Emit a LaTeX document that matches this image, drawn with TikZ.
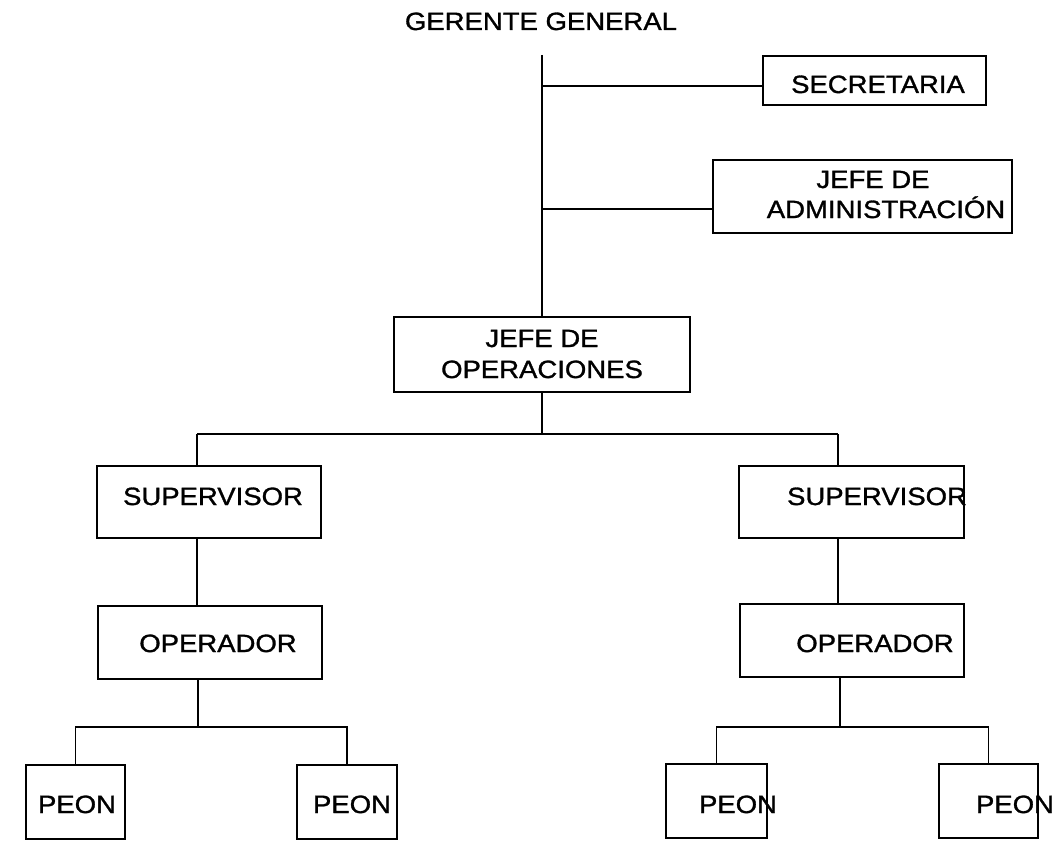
\documentclass[tikz,border=0pt]{standalone}
\usepackage{fontspec}
\setmainfont{Liberation Sans}[FakeStretch=1.1,FakeBold=1.2]
\begin{document}
\begin{tikzpicture}[x=1pt,y=-1pt,
  box/.style={draw,line width=1.8pt,rectangle,inner sep=0pt},
  lbl/.style={anchor=base,inner sep=0pt,font=\fontsize{25}{31}\selectfont},
  conn/.style={line width=1.8pt}]
\useasboundingbox (0,0) rectangle (1055,848);
% boxes
\node[box,minimum width=223pt,minimum height=49pt] (sec) at (874.5,80.5) {};
\node[box,minimum width=299pt,minimum height=73pt] (adm) at (862.5,196.5) {};
\node[box,minimum width=296pt,minimum height=75pt] (jo) at (542,354.5) {};
\node[box,minimum width=224pt,minimum height=72pt] (sup1) at (209,502) {};
\node[box,minimum width=225pt,minimum height=72pt] (sup2) at (851.5,502) {};
\node[box,minimum width=224pt,minimum height=73pt] (op1) at (210,642.5) {};
\node[box,minimum width=224pt,minimum height=73pt] (op2) at (852,640.5) {};
\node[box,minimum width=99pt,minimum height=74pt] (p1) at (75.5,802) {};
\node[box,minimum width=100pt,minimum height=74pt] (p2) at (347,802) {};
\node[box,minimum width=101pt,minimum height=74pt] (p3) at (716.5,801) {};
\node[box,minimum width=99pt,minimum height=74pt] (p4) at (988.5,801) {};
% texts
\node[lbl] (gg) at (541,30) {GERENTE GENERAL};
\node[lbl] (sect) at (878,93) {SECRETARIA};
\node[lbl] (admt1) at (873,188) {JEFE DE};
\node[lbl] (admt2) at (886,218) {ADMINISTRACIÓN};
\node[lbl] (jot1) at (542,347) {JEFE DE};
\node[lbl] (jot2) at (542,378) {OPERACIONES};
\node[lbl] (sup1t) at (213,505) {SUPERVISOR};
\node[lbl] (sup2t) at (877,505) {SUPERVISOR};
\node[lbl] (op1t) at (218,652) {OPERADOR};
\node[lbl] (op2t) at (875,652) {OPERADOR};
\node[lbl] (p1t) at (77,813) {PEON};
\node[lbl] (p2t) at (352,813) {PEON};
\node[lbl] (p3t) at (738,813) {PEON};
\node[lbl] (p4t) at (1015,813) {PEON};
% junction coordinates
\coordinate (top) at (542,55);
\coordinate (j1) at (542,86);
\coordinate (j2) at (542,209);
\coordinate (b0) at (542,434);
\coordinate (b1) at (197,434);
\coordinate (b2) at (838,434);
\coordinate (c1) at (198,727);
\coordinate (c2) at (840,727);
% connectors
\draw[conn] (top) -- (jo.north);
\draw[conn] (j1) -- (j1 -| sec.west);
\draw[conn] (j2) -- (j2 -| adm.west);
\draw[conn] (jo.south) -- (b0);
\draw[conn] (b1) -- (b2);
\draw[conn] (b1) -- (b1 |- sup1.north);
\draw[conn] (b2) -- (b2 |- sup2.north);
\draw[conn] (b1 |- sup1.south) -- (b1 |- op1.north);
\draw[conn] (b2 |- sup2.south) -- (b2 |- op2.north);
\draw[conn] (c1 |- op1.south) -- (c1);
\draw[conn] (c2 |- op2.south) -- (c2);
\draw[conn] (p1.north) |- (c1) -| (p2.north);
\draw[conn] (p3.north) |- (c2) -| (p4.north);
\end{tikzpicture}
\end{document}
